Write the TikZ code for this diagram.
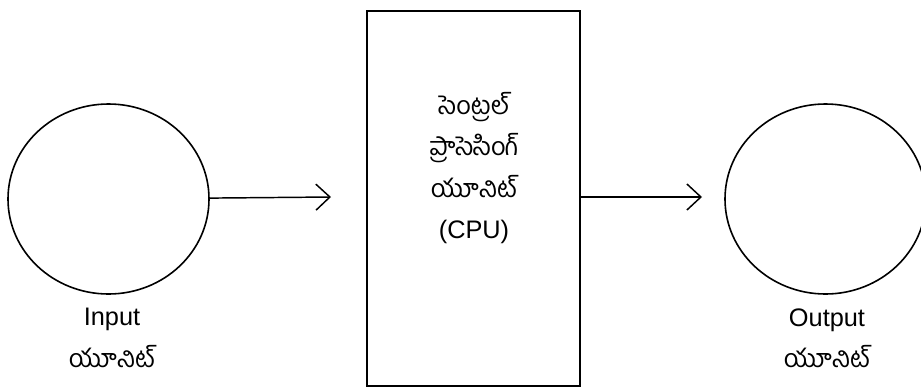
\documentclass[tikz,border=0pt]{standalone}
\usepackage{fontspec}
\setmainfont{Liberation Sans}
\newfontfamily\telugu[Script=Telugu]{Hind Guntur}
\usetikzlibrary{shapes.geometric,arrows.meta}

\begin{document}
\begin{tikzpicture}[x=0.75pt,y=-0.75pt,
  every node/.style={inner sep=0pt, outer sep=0pt, font=\fontsize{19pt}{31pt}\selectfont},
  unit/.style={draw, ellipse, line width=1.2pt, minimum width=150.75pt, minimum height=142.5pt},
  box/.style={draw, rectangle, line width=1.2pt, minimum width=159.75pt, minimum height=281.25pt},
  flow/.style={line width=1.1pt, -{Straight Barb[length=10.5pt,width=19.5pt,line width=1.1pt]}},
  caption/.style={align=center}]
\useasboundingbox (0,0) rectangle (921,386);
% units
\node[unit] (input) at (108.5,199) {};
\node[box] (cpu) at (473.5,198.5) {};
\node[unit] (output) at (825.5,199) {};
% texts
\node[caption] (cputext) at (474,168) {{\telugu సెంట్రల్}\\{\telugu ప్రాసెసింగ్}\\{\telugu యూనిట్}\\(CPU)};
\node[caption] (intext) at (112,338) {Input\\{\telugu యూనిట్}};
\node[caption] (outtext) at (827,338) {Output\\{\telugu యూనిట్}};
% flow
\coordinate (tip1) at (331,197);
\coordinate (tip2) at (702,197);
\draw[flow] (input) -- (tip1);
\draw[flow] (cpu.east |- tip2) -- (tip2);
\end{tikzpicture}
\end{document}
